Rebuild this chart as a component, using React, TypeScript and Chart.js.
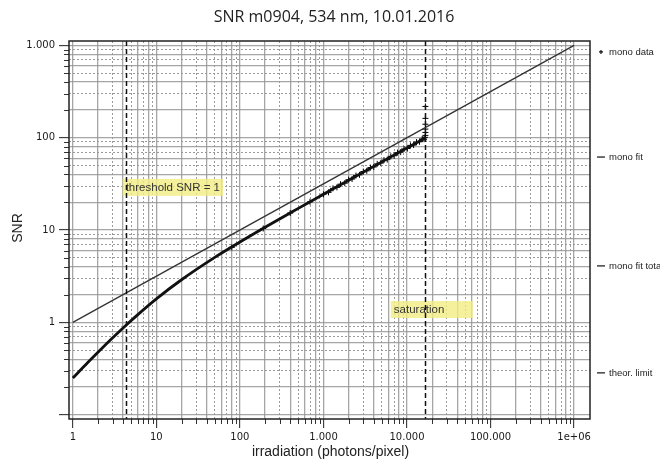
import React, { useEffect, useRef } from "react";
import { Chart, registerables } from "chart.js";
Chart.register(...registerables);

const TITLE = "SNR m0904, 534 nm, 10.01.2016";
const X_TITLE = "irradiation (photons/pixel)";
const Y_TITLE = "SNR";

const X_MIN = 0.9;
const X_MAX = 1.55e6;
const Y_MIN = 0.09;
const Y_MAX = 1115;

const xDecades = [1, 10, 100, 1000, 10000, 100000, 1000000];
const xDecadeLabels = ["1", "10", "100", "1.000", "10.000", "100.000", "1e+06"];
const yDecades = [0.1, 1, 10, 100, 1000];
const yDecadeLabels = ["", "1", "10", "100", "1.000"];
const mantissas = [1, 2, 3, 4, 5, 6, 7, 8, 9];
const solidMantissas = [1, 2, 4, 6, 8];

// theoretical limit (shot noise)
const theorX = [1, 1000000];
const theorY = [1, 1000];

// mono fit total
const fitTotalX = [1, 1.5, 2, 3, 4.3, 6, 10, 20, 50, 100, 200, 500, 1000, 2000, 5000, 10000, 16500];
const fitTotalY = [0.25, 0.366, 0.476, 0.682, 0.927, 1.216, 1.8, 2.897, 5.06, 7.42, 10.73, 17.17, 24.39, 34.57, 54.73, 77.43, 99.47];

// mono fit (data range)
const fitX = [80, 200, 500, 1000, 2000, 5000, 10000, 16500];
const fitY = [6.58, 10.73, 17.17, 24.39, 34.57, 54.73, 77.43, 99.47];

// mono data
const dataX = [80, 190, 400, 690, 1000, 1150, 1300, 1450, 1600, 1800, 2000, 2200, 2450, 2700, 3000, 3300, 3650, 4000, 4400, 4850, 5300, 5800, 6400, 7000, 7700, 8400, 9200, 10100, 11000, 12000, 13000, 14100, 15200, 16000, 16400, 16600, 16600, 16600, 16600, 16600, 16600];
const dataY = [6.5, 10.4, 15.3, 20.2, 24.4, 25.6, 28.3, 29.0, 31.4, 32.2, 35.1, 35.7, 38.9, 39.6, 43.0, 43.8, 47.5, 48.2, 52.1, 53.1, 57.2, 58.0, 62.9, 63.8, 69.0, 69.8, 75.5, 76.4, 82.6, 83.3, 89.8, 90.4, 97.0, 96.3, 101.0, 106, 114, 124, 140, 162, 218];

const thresholdX = 4.3;
const saturationX = 16600;
const thresholdLabel = "threshold SNR = 1";
const thresholdLabelX = 3.95;
const thresholdLabelY = 29;
const saturationLabel = "saturation";
const saturationLabelX = 6400;
const saturationLabelY = 1.38;

const legendLabels = ["mono data", "mono fit", "mono fit total", "theor. limit"];
const legendMarkers = ["+", "line", "line", "line"];
const legendFractions = [0.029, 0.307, 0.595, 0.878];

const buildTicks = (decades: number[], min: number, max: number) => {
  const out: number[] = [];
  decades.forEach((d) => mantissas.forEach((m) => {
    const v = d * m;
    if (v >= min && v <= max) out.push(v);
  }));
  return out;
};

const mantissaOf = (v: number) => {
  const e = Math.floor(Math.log10(v) + 1e-9);
  return Math.round(v / Math.pow(10, e));
};

const labelFor = (v: number, decades: number[], labels: string[]) => {
  for (let i = 0; i < decades.length; i++) {
    if (Math.abs(v / decades[i] - 1) < 1e-6) return labels[i];
  }
  return "";
};

const gridColor = (ctx: any) => {
  const v = ctx.tick && ctx.tick.value;
  if (!v) return "rgba(0,0,0,0)";
  return solidMantissas.includes(mantissaOf(v)) ? "rgba(150,150,150,0.85)" : "#9a9a9a";
};
const gridWidth = (ctx: any) => {
  const v = ctx.tick && ctx.tick.value;
  if (!v) return 1;
  return solidMantissas.includes(mantissaOf(v)) ? 1.3 : 1;
};
const gridDash = (ctx: any) => {
  const v = ctx.tick && ctx.tick.value;
  if (!v) return [];
  return solidMantissas.includes(mantissaOf(v)) ? [] : [2, 2];
};
const tickColor = (ctx: any) => {
  const v = ctx.tick && ctx.tick.value;
  if (!v) return "rgba(0,0,0,0)";
  return mantissaOf(v) === 1 ? "#222" : "rgba(0,0,0,0)";
};

const decor = {
  id: "decor",
  afterDatasetsDraw(chart: any) {
    const { ctx, chartArea: a, scales } = chart;
    const x = scales.x;
    const y = scales.y;
    ctx.save();
    // label boxes
    ctx.font = "11.5px 'Liberation Sans'";
    ctx.textBaseline = "middle";
    const drawLabel = (text: string, vx: number, vy: number, minW: number) => {
      const px = x.getPixelForValue(vx);
      const py = y.getPixelForValue(vy);
      const w = Math.max(ctx.measureText(text).width + 6, minW);
      ctx.fillStyle = "rgba(242,236,130,0.8)";
      ctx.fillRect(px, py - 8.5, w, 17);
      ctx.fillStyle = "#333";
      ctx.textAlign = "left";
      ctx.fillText(text, px + 3, py + 0.5);
    };
    drawLabel(thresholdLabel, thresholdLabelX, thresholdLabelY, 0);
    drawLabel(saturationLabel, saturationLabelX, saturationLabelY, 82);
    // dashed vertical lines
    ctx.strokeStyle = "#111";
    ctx.lineWidth = 1.5;
    ctx.setLineDash([5, 3]);
    [thresholdX, saturationX].forEach((v) => {
      const px = Math.round(x.getPixelForValue(v)) + 0.5;
      ctx.beginPath();
      ctx.moveTo(px, a.top);
      ctx.lineTo(px, a.bottom);
      ctx.stroke();
    });
    ctx.restore();
  },
  afterDraw(chart: any) {
    const { ctx, chartArea: a, scales } = chart;
    const x = scales.x;
    const y = scales.y;
    ctx.save();
    // minor ticks
    ctx.strokeStyle = "#333";
    ctx.lineWidth = 1;
    x.ticks.forEach((t: any) => {
      if (mantissaOf(t.value) === 1) return;
      const px = Math.round(x.getPixelForValue(t.value)) + 0.5;
      ctx.beginPath();
      ctx.moveTo(px, a.bottom);
      ctx.lineTo(px, a.bottom + 5);
      ctx.stroke();
    });
    y.ticks.forEach((t: any) => {
      if (mantissaOf(t.value) === 1) return;
      const py = Math.round(y.getPixelForValue(t.value)) + 0.5;
      ctx.beginPath();
      ctx.moveTo(a.left - 5, py);
      ctx.lineTo(a.left, py);
      ctx.stroke();
    });
    // frame
    ctx.strokeStyle = "#222";
    ctx.lineWidth = 1.5;
    ctx.strokeRect(a.left, a.top, a.right - a.left, a.bottom - a.top);
    // titles
    ctx.fillStyle = "#222";
    ctx.textAlign = "center";
    ctx.textBaseline = "middle";
    ctx.font = "16px 'Open Sans'";
    ctx.fillText(TITLE, 334, 17);
    ctx.font = "14px 'Liberation Sans'";
    ctx.fillText(X_TITLE, (a.left + a.right) / 2 + 1, 452);
    ctx.save();
    ctx.translate(18, 228);
    ctx.rotate(-Math.PI / 2);
    ctx.fillText(Y_TITLE, 0, 0);
    ctx.restore();
    // legend
    ctx.font = "9.5px 'Liberation Sans'";
    ctx.textAlign = "left";
    legendLabels.forEach((lab, i) => {
      const py = a.top + legendFractions[i] * (a.bottom - a.top);
      const mx = a.right + 8;
      ctx.strokeStyle = "#111";
      ctx.lineWidth = 1.2;
      ctx.beginPath();
      if (legendMarkers[i] === "+") {
        ctx.moveTo(mx + 1, py);
        ctx.lineTo(mx + 5, py);
        ctx.moveTo(mx + 3, py - 2);
        ctx.lineTo(mx + 3, py + 2);
      } else {
        ctx.moveTo(mx - 1, py);
        ctx.lineTo(mx + 7, py);
      }
      ctx.stroke();
      ctx.fillStyle = "#222";
      ctx.fillText(lab, mx + 11, py);
    });
    ctx.restore();
  },
};

export default function App() {
  const ref = useRef<HTMLCanvasElement | null>(null);
  useEffect(() => {
    document.body.style.margin = "0";
    if (!ref.current) return;
    const xTicks = buildTicks(xDecades, X_MIN, X_MAX);
    const yTicks = buildTicks(yDecades, Y_MIN, Y_MAX);
    const pts = (xs: number[], ys: number[]) => xs.map((v, i) => ({ x: v, y: ys[i] }));
    const chart = new Chart(ref.current, {
      type: "scatter",
      data: {
        datasets: [
          {
            label: legendLabels[3],
            data: pts(theorX, theorY),
            showLine: true,
            borderColor: "#333",
            borderWidth: 1.3,
            pointRadius: 0,
          },
          {
            label: legendLabels[2],
            data: pts(fitTotalX, fitTotalY),
            showLine: true,
            borderColor: "#111",
            borderWidth: 2.8,
            pointRadius: 0,
            cubicInterpolationMode: "monotone",
          },
          {
            label: legendLabels[1],
            data: pts(fitX, fitY),
            showLine: true,
            borderColor: "#111",
            borderWidth: 1.5,
            pointRadius: 0,
            cubicInterpolationMode: "monotone",
          },
          {
            label: legendLabels[0],
            data: pts(dataX, dataY),
            showLine: false,
            pointStyle: "cross",
            pointRadius: 3,
            borderColor: "#000",
            borderWidth: 1,
          },
        ],
      },
      options: {
        responsive: false,
        animation: false,
        layout: { padding: { top: 41, right: 70, left: 0, bottom: 0 } },
        plugins: { legend: { display: false }, tooltip: { enabled: false }, title: { display: false } },
        scales: {
          x: {
            type: "logarithmic",
            min: X_MIN,
            max: X_MAX,
            afterBuildTicks: (s: any) => { s.ticks = xTicks.map((v) => ({ value: v })); },
            afterFit: (s: any) => { s.height = 45; },
            ticks: {
              autoSkip: false,
              maxRotation: 0,
              padding: 3,
              color: "#1a1a1a",
              font: { family: "'DejaVu Sans'", size: 10 },
              callback: (v: any) => labelFor(Number(v), xDecades, xDecadeLabels),
            },
            grid: { color: gridColor, lineWidth: gridWidth, tickColor, tickLength: 9, tickWidth: 1 },
            border: { display: false, dash: gridDash },
          },
          y: {
            type: "logarithmic",
            min: Y_MIN,
            max: Y_MAX,
            afterBuildTicks: (s: any) => { s.ticks = yTicks.map((v) => ({ value: v })); },
            afterFit: (s: any) => { s.width = 69; },
            ticks: {
              autoSkip: false,
              padding: 4,
              color: "#1a1a1a",
              font: { family: "'DejaVu Sans'", size: 10 },
              callback: (v: any) => labelFor(Number(v), yDecades, yDecadeLabels),
            },
            grid: { color: gridColor, lineWidth: gridWidth, tickColor, tickLength: 10, tickWidth: 1 },
            border: { display: false, dash: gridDash },
          },
        },
      },
      plugins: [decor],
    } as any);
    return () => chart.destroy();
  }, []);
  return (
    <div style={{ width: 660, height: 464 }}>
      <canvas ref={ref} width={660} height={464} style={{ display: "block" }} />
    </div>
  );
}
